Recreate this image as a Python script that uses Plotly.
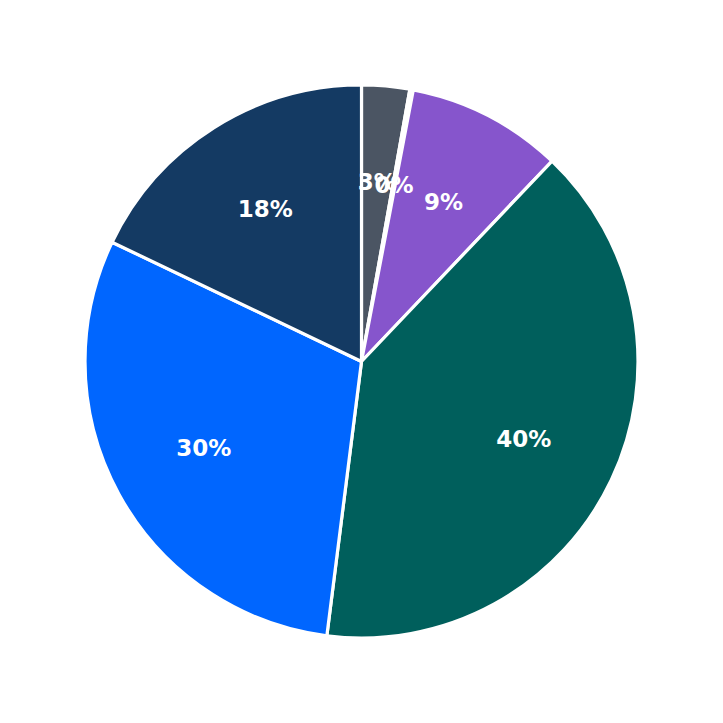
import math
import plotly.graph_objects as go

# slice values (percent), clockwise from 12 o'clock
labels = ['Gray', 'Other', 'Purple', 'Teal', 'Blue', 'Navy']
values = [2.8, 0.2, 9.1, 39.9, 30.1, 17.9]
colors = ['#4b5563', '#f9fafb', '#8655cc', '#005f5c', '#0066ff', '#143a63']

LABEL_R = 0.65  # label distance as fraction of the radius
total = sum(values)


def domain(f):
    # concentric domain whose radius is f times the full pie
    lo, hi = (1 - f) / 2, (1 + f) / 2
    return dict(x=[lo, hi], y=[lo, hi])


def text_pie(show, f, hole=0):
    tmpl = ['%{percent:.0%}' if s else '' for s in show]
    return go.Pie(
        labels=labels,
        values=values,
        sort=False,
        direction='clockwise',
        rotation=0,
        domain=domain(f),
        hole=hole,
        marker=dict(colors=['rgba(0,0,0,0)'] * len(values), line=dict(width=0)),
        texttemplate=tmpl,
        textposition='inside',
        insidetextorientation='horizontal',
        textfont=dict(family='DejaVu Sans', size=23, color='white', weight='bold'),
        hoverinfo='skip',
    )


# coloured slices, no text
fig = go.Figure(go.Pie(
    labels=labels,
    values=values,
    sort=False,
    direction='clockwise',
    rotation=0,
    domain=domain(1),
    marker=dict(colors=colors, line=dict(color='white', width=3.2)),
    textinfo='none',
    hoverinfo='label+percent',
))

# big slices: transparent ring puts labels at 0.65 of the radius
big = [v / total > 0.15 for v in values]
fig.add_trace(text_pie(big, 1, hole=2 * LABEL_R - 1))

# thin slices: plotly centres text in the inscribed circle of the slice,
# so shrink each text pie until that point lands at 0.65 of the radius
for i, v in enumerate(values):
    if big[i]:
        continue
    half = math.pi * v / total
    r_ins = 1 / (1 + 1 / math.sin(half))
    f = LABEL_R / (1 - r_ins)
    fig.add_trace(text_pie([j == i for j in range(len(values))], f))

fig.update_layout(
    width=723,
    height=723,
    margin=dict(l=77, r=93, t=77, b=93),
    showlegend=False,
    paper_bgcolor='white',
    uniformtext=dict(minsize=23, mode='show'),
)

fig.write_html("out.html")
